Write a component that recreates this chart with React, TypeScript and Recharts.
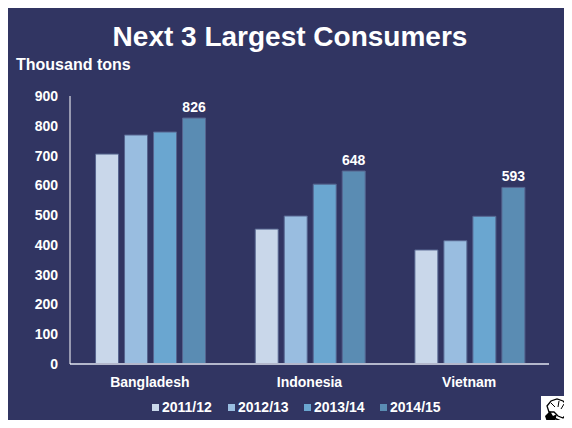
import React from 'react';
import { BarChart, Bar, XAxis, YAxis, LabelList } from 'recharts';

const countries = ['Bangladesh', 'Indonesia', 'Vietnam'];
const seasons = ['2011/12', '2012/13', '2013/14', '2014/15'];
const v2011 = [705, 453, 383];
const v2012 = [769, 497, 414];
const v2013 = [779, 604, 496];
const v2014 = [826, 648, 593];
const yTicks = [0, 100, 200, 300, 400, 500, 600, 700, 800, 900];

const COLORS = ['#c9d7ea', '#99bde0', '#6aa6d0', '#5a8cb3'];
const BG = '#313562';
const FONT = '"Liberation Sans", Arial, sans-serif';

const data = countries.map((name, i) => ({
  name,
  s0: v2011[i],
  s1: v2012[i],
  s2: v2013[i],
  s3: v2014[i],
}));

function Logo() {
  return (
    <svg width={31} height={32} style={{ position: 'absolute', left: 541, top: 396 }}>
      <rect x={0} y={0} width={31} height={32} fill="#ffffff" />
      <path
        d="M6 10 L10 5 L16 3 L22 5 L27 10 L26 17 L22 22 L17 20 L13 16 L8 16 Z"
        fill="none"
        stroke="#000"
        strokeWidth={1.3}
      />
      <path d="M10 7 L14 11 M18 5 L17 11 M23 8 L20 13" stroke="#000" strokeWidth={1} />
      <path d="M4 20 L9 15 L12 20 L16 18 L14 25 L18 28 L10 30 L6 26 Z" fill="#000" />
      <path d="M13 22 L20 25 M12 24 L17 31" stroke="#000" strokeWidth={1.5} />
    </svg>
  );
}

export default function App() {
  return (
    <div style={{ width: 572, height: 428, position: 'relative', background: '#fff', margin: -8, overflow: 'hidden', fontFamily: FONT }}>
      <div
        style={{
          position: 'absolute',
          left: 0,
          top: 5,
          width: 572,
          height: 423,
          background: BG,
          borderTop: '2px solid #000',
          borderLeft: '6px solid #000',
          boxSizing: 'border-box',
        }}
      />
      <div
        style={{
          position: 'absolute',
          left: 0,
          width: 580,
          top: 21,
          textAlign: 'center',
          color: '#fff',
          fontWeight: 'bold',
          fontSize: 28,
        }}
      >
        Next 3 Largest Consumers
      </div>
      <div style={{ position: 'absolute', left: 16, top: 56, color: '#fff', fontWeight: 'bold', fontSize: 16 }}>
        Thousand tons
      </div>
      <div style={{ position: 'absolute', left: 0, top: 0 }}>
        <BarChart
          width={572}
          height={428}
          data={data}
          margin={{ top: 96, right: 23, bottom: 34, left: 10 }}
          barCategoryGap="16%"
          barGap={6}
        >
          <XAxis
            dataKey="name"
            height={30}
            tickLine={false}
            axisLine={{ stroke: '#b4b8cc', strokeWidth: 2 }}
            tickMargin={7}
            tick={{ fill: '#fff', fontSize: 14, fontWeight: 'bold', fontFamily: FONT }}
          />
          <YAxis
            width={60}
            domain={[0, 900]}
            ticks={yTicks}
            interval={0}
            tickLine={false}
            axisLine={{ stroke: '#ffffff', strokeWidth: 1 }}
            tickMargin={6}
            tick={{ fill: '#fff', fontSize: 14, fontWeight: 'bold', fontFamily: FONT }}
          />
          {['s0', 's1', 's2', 's3'].map((key, i) => (
            <Bar
              key={key}
              dataKey={key}
              fill={COLORS[i]}
              stroke="#56658f"
              strokeWidth={1}
              isAnimationActive={false}
            >
              {i === 3 && (
                <LabelList
                  dataKey={key}
                  position="top"
                  offset={6}
                  fill="#fff"
                  fontSize={14}
                  fontWeight="bold"
                  fontFamily={FONT}
                />
              )}
            </Bar>
          ))}
        </BarChart>
      </div>
      <div style={{ position: 'absolute', left: 152, top: 399, display: 'flex', color: '#fff', fontWeight: 'bold', fontSize: 14 }}>
        {seasons.map((s, i) => (
          <div key={s} style={{ width: 76, display: 'flex', alignItems: 'center' }}>
            <span style={{ width: 7, height: 7, background: COLORS[i], marginRight: 3, display: 'inline-block' }} />
            <span>{s}</span>
          </div>
        ))}
      </div>
      <Logo />
    </div>
  );
}
